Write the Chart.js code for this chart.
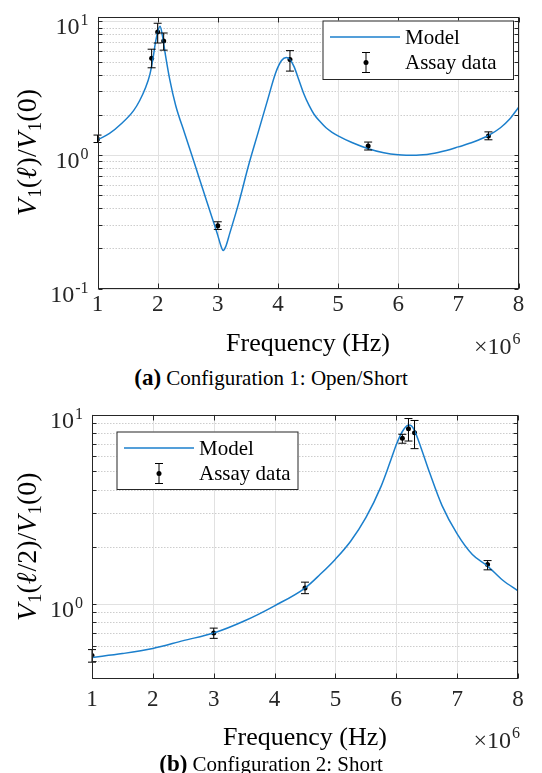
<!DOCTYPE html>
<html lang="en">
<head>
<meta charset="UTF-8">
<title>V1 ratio vs frequency</title>
<script src="https://cdn.jsdelivr.net/npm/chart.js"></script>
<style>
  body {
      margin: 0;
      background: #fff;
      width: 542px;
      height: 773px;
      position: relative;
      overflow: hidden;
      font-family: 'Liberation Serif', serif;
  }
  canvas {
      position: absolute;
      left: 0;
  }
  #plotA { top: 0; }
  #plotB { top: 395px; }
  .caption {
      position: absolute;
      left: 0;
      width: 542px;
      text-align: center;
      color: #000;
      font-size: 21px;
      line-height: 24px;
      white-space: nowrap;
  }
  .caption b { font-size: 23px; }
</style>
</head>
<body>
<canvas id="plotA" width="542" height="362"></canvas>
<canvas id="plotB" width="542" height="375"></canvas>
<div class="caption" style="top:366px"><b>(a)</b> Configuration 1: Open/Short</div>
<div class="caption" style="top:752px"><b>(b)</b> Configuration 2: Short</div>

<script>
// ---- (a) Configuration 1: Open/Short ----
const modelFreqA = [1.0, 1.2, 1.4, 1.6, 1.7, 1.8, 1.87, 1.92, 1.96, 2.0, 2.04, 2.08, 2.13, 2.2, 2.3, 2.45,
                    2.6, 2.75, 2.9, 3.0, 3.05, 3.09, 3.13, 3.2, 3.35, 3.51, 3.67, 3.83, 3.96, 4.06, 4.14,
                    4.2, 4.27, 4.35, 4.43, 4.52, 4.6, 4.7, 4.8, 4.9, 5.0, 5.23, 5.49, 5.76, 6.0, 6.3,
                    6.55, 6.8, 7.0, 7.25, 7.5, 7.7, 7.85, 8.0];
const modelA = [1.30, 1.45, 1.72, 2.15, 2.55, 3.2, 4.0, 5.2, 6.8, 8.3, 9.2, 7.8, 5.6, 3.7, 2.35, 1.45,
                0.90, 0.556, 0.345, 0.25, 0.21, 0.193, 0.205, 0.26, 0.44, 0.83, 1.47, 2.6, 4.1, 5.1, 5.38,
                5.2, 4.57, 3.63, 2.88, 2.34, 2.02, 1.78, 1.60, 1.48, 1.39, 1.24, 1.12, 1.04, 1.005, 0.995,
                1.02, 1.08, 1.15, 1.25, 1.40, 1.6, 1.85, 2.27];
const assayFreqA = [1.0, 1.9, 2.0, 2.1, 3.0, 4.2, 5.5, 7.5];
const assayA     = [1.32, 5.3, 8.35, 7.15, 0.295, 5.2, 1.17, 1.39];
const assayLoA   = [1.24, 4.5, 6.9, 6.1, 0.277, 4.25, 1.09, 1.30];
const assayHiA   = [1.41, 6.2, 9.7, 8.2, 0.316, 6.05, 1.25, 1.49];

// ---- (b) Configuration 2: Short ----
const modelFreqB = [1.0, 1.5, 2.0, 2.5, 3.0, 3.5, 4.0, 4.5, 4.75, 5.0, 5.25, 5.5, 5.75, 5.9, 6.0,
                    6.1, 6.2, 6.25, 6.3, 6.4, 6.55, 6.75, 7.0, 7.25, 7.5, 7.75, 8.0];
const modelB = [0.52, 0.545, 0.58, 0.638, 0.70, 0.81, 0.975, 1.21, 1.43, 1.72, 2.14, 2.85, 4.17, 5.62, 6.92,
                8.13, 8.79, 8.71, 8.22, 6.76, 4.9, 3.31, 2.34, 1.82, 1.58, 1.33, 1.17];
const assayFreqB = [1.0, 3.0, 4.5, 6.1, 6.2, 6.3, 7.5];
const assayB     = [0.532, 0.70, 1.21, 7.5, 8.4, 8.0, 1.61];
const assayLoB   = [0.491, 0.656, 1.13, 7.05, 7.24, 6.6, 1.51];
const assayHiB   = [0.572, 0.743, 1.30, 7.86, 9.52, 9.3, 1.69];

const xTickValues = [1, 2, 3, 4, 5, 6, 7, 8];

const SERIF = "'Liberation Serif', serif";
const AXIS = '#262626';
const BLUE = '#1b7fcc';

function seg(t, style) { return { t: t, style: style || '' }; }
const yTitleA = [seg('V', 'i'), seg('1', 'sub'), seg('('), seg('\u2113', 'i'), seg(')/'),
                 seg('V', 'i'), seg('1', 'sub'), seg('(0)')];
const yTitleB = [seg('V', 'i'), seg('1', 'sub'), seg('('), seg('\u2113', 'i'), seg('/2)/'),
                 seg('V', 'i'), seg('1', 'sub'), seg('(0)')];

// MATLAB-ish look: grid, boxed axes, inward ticks, 10^n labels, error bars, legend
const matlabAxes = {
    id: 'matlabAxes',
    beforeDatasetsDraw(chart, args, o) {
        const { ctx, chartArea: a, scales: { x, y } } = chart;
        ctx.save();
        ctx.lineWidth = 1;
        // minor y grid (dotted)
        ctx.strokeStyle = '#cdcdcd';
        ctx.setLineDash([1.5, 1.5]);
        minorValues(y).forEach(v => {
            const py = Math.round(y.getPixelForValue(v)) + 0.5;
            ctx.beginPath(); ctx.moveTo(a.left, py); ctx.lineTo(a.right, py); ctx.stroke();
        });
        ctx.setLineDash([]);
        ctx.strokeStyle = '#e1e1e1';
        majorValues(y).forEach(v => {
            const py = Math.round(y.getPixelForValue(v)) + 0.5;
            ctx.beginPath(); ctx.moveTo(a.left, py); ctx.lineTo(a.right, py); ctx.stroke();
        });
        x.ticks.forEach(t => {
            const px = Math.round(x.getPixelForValue(t.value)) + 0.5;
            ctx.beginPath(); ctx.moveTo(px, a.top); ctx.lineTo(px, a.bottom); ctx.stroke();
        });
        ctx.restore();
    },
    afterDatasetsDraw(chart, args, o) {
        const { ctx, chartArea: a, scales: { x, y } } = chart;
        ctx.save();

        // error bars for the assay points
        ctx.strokeStyle = '#000';
        ctx.lineWidth = 1;
        o.errX.forEach((f, i) => {
            const px = x.getPixelForValue(f);
            const lo = y.getPixelForValue(o.errLo[i]);
            const hi = y.getPixelForValue(o.errHi[i]);
            ctx.beginPath();
            ctx.moveTo(px, lo); ctx.lineTo(px, hi);
            ctx.moveTo(px - 4, lo); ctx.lineTo(px + 4, lo);
            ctx.moveTo(px - 4, hi); ctx.lineTo(px + 4, hi);
            ctx.stroke();
        });

        // box and inward tick marks
        ctx.strokeStyle = AXIS;
        ctx.lineWidth = 1;
        const L = Math.round(a.left) + 0.5, R = Math.round(a.right) - 0.5;
        const T = Math.round(a.top) + 0.5, B = Math.round(a.bottom) - 0.5;
        ctx.strokeRect(L, T, R - L, B - T);
        ctx.beginPath();
        x.ticks.forEach(t => {
            const px = Math.round(x.getPixelForValue(t.value)) + 0.5;
            ctx.moveTo(px, B); ctx.lineTo(px, B - 5);
            ctx.moveTo(px, T); ctx.lineTo(px, T + 5);
        });
        majorValues(y).concat(minorValues(y)).forEach(v => {
            const py = Math.round(y.getPixelForValue(v)) + 0.5;
            ctx.moveTo(L, py); ctx.lineTo(L + 4, py);
            ctx.moveTo(R, py); ctx.lineTo(R - 4, py);
        });
        ctx.stroke();

        // y tick labels 10^n
        ctx.fillStyle = AXIS;
        ctx.textBaseline = 'alphabetic';
        majorValues(y).forEach(v => {
            const e = String(Math.round(Math.log10(v)));
            const py = y.getPixelForValue(v);
            ctx.font = '16px ' + SERIF;
            const sw = ctx.measureText(e).width;
            const right = a.left - 9;
            ctx.textAlign = 'right';
            ctx.fillText(e, right, py + 4);
            ctx.font = '24px ' + SERIF;
            ctx.fillText('10', right - sw - 1, py + 13);
        });

        // y title (rotated, mixed italic / subscript)
        ctx.save();
        ctx.translate(27, (a.top + a.bottom) / 2);
        ctx.rotate(-Math.PI / 2);
        ctx.fillStyle = '#000';
        ctx.textAlign = 'left';
        ctx.textBaseline = 'alphabetic';
        const fontOf = s => s.style === 'i' ? 'italic 28px ' + SERIF
                          : s.style === 'sub' ? '19px ' + SERIF : '28px ' + SERIF;
        let total = 0;
        o.yTitle.forEach(s => { ctx.font = fontOf(s); total += ctx.measureText(s.t).width + (s.style === 'i' ? 1 : 0); });
        let cx = -total / 2;
        o.yTitle.forEach(s => {
            ctx.font = fontOf(s);
            ctx.fillText(s.t, cx, s.style === 'sub' ? 14 : 9);
            cx += ctx.measureText(s.t).width + (s.style === 'i' ? 1 : 0);
        });
        ctx.restore();

        // x title and exponent
        ctx.fillStyle = '#000';
        ctx.textAlign = 'center';
        ctx.font = '26px ' + SERIF;
        ctx.fillText('Frequency (Hz)', (a.left + a.right) / 2, a.bottom + o.xTitleOffset);
        ctx.fillStyle = AXIS;
        ctx.textAlign = 'right';
        ctx.font = '16px ' + SERIF;
        const w6 = ctx.measureText('6').width;
        ctx.fillText('6', a.right + 2, a.bottom + o.xTitleOffset - 7);
        ctx.font = '24px ' + SERIF;
        ctx.fillText('\u00d710', a.right + 1 - w6, a.bottom + o.xTitleOffset + 3);

        // legend
        const g = o.legend;
        ctx.fillStyle = '#fff';
        ctx.fillRect(g.x1, g.y1, g.x2 - g.x1, g.y2 - g.y1);
        ctx.strokeStyle = AXIS;
        ctx.strokeRect(g.x1 + 0.5, g.y1 + 0.5, g.x2 - g.x1, g.y2 - g.y1);
        ctx.strokeStyle = BLUE;
        ctx.lineWidth = 1.5;
        ctx.beginPath(); ctx.moveTo(g.lineX1, g.row1); ctx.lineTo(g.lineX2, g.row1); ctx.stroke();
        ctx.strokeStyle = '#000';
        ctx.lineWidth = 1;
        const ex = g.errX;
        ctx.beginPath();
        ctx.moveTo(ex, g.row2 - 10); ctx.lineTo(ex, g.row2 + 10);
        ctx.moveTo(ex - 4, g.row2 - 10); ctx.lineTo(ex + 4, g.row2 - 10);
        ctx.moveTo(ex - 4, g.row2 + 10); ctx.lineTo(ex + 4, g.row2 + 10);
        ctx.stroke();
        ctx.fillStyle = '#000';
        ctx.beginPath(); ctx.arc(ex, g.row2, 2.5, 0, Math.PI * 2); ctx.fill();
        ctx.font = '21px ' + SERIF;
        ctx.textAlign = 'left';
        ctx.textBaseline = 'middle';
        ctx.fillText('Model', g.textX, g.row1 + 1);
        ctx.fillText('Assay data', g.textX, g.row2 + 1);

        ctx.restore();
    }
};

function decadeRange(y) {
    return [Math.floor(Math.log10(y.min) + 1e-9), Math.ceil(Math.log10(y.max) - 1e-9)];
}
function majorValues(y) {
    const [d0, d1] = decadeRange(y);
    const out = [];
    for (let d = d0; d <= d1; d++) {
        const v = Math.pow(10, d);
        if (v >= y.min * 0.999 && v <= y.max * 1.001) out.push(v);
    }
    return out;
}
function minorValues(y) {
    const [d0, d1] = decadeRange(y);
    const out = [];
    for (let d = d0; d <= d1; d++) {
        for (let k = 2; k <= 9; k++) {
            const v = k * Math.pow(10, d);
            if (v > y.min * 1.01 && v < y.max * 0.99) out.push(v);
        }
    }
    return out;
}

function makeChart(id, cfg) {
    const line = cfg.modelFreq.map((f, i) => ({ x: f, y: cfg.model[i] }));
    const pts = cfg.assayFreq.map((f, i) => ({ x: f, y: cfg.assay[i] }));
    return new Chart(document.getElementById(id), {
        type: 'scatter',
        data: {
            datasets: [{
                label: 'Model',
                data: line,
                showLine: true,
                borderColor: BLUE,
                borderWidth: 1.5,
                pointRadius: 0,
                cubicInterpolationMode: 'monotone'
            }, {
                label: 'Assay data',
                data: pts,
                showLine: false,
                pointRadius: 2.5,
                pointBackgroundColor: '#000',
                pointBorderColor: '#000',
                pointBorderWidth: 0
            }]
        },
        options: {
            responsive: false,
            animation: false,
            events: [],
            layout: { padding: { top: cfg.padTop, right: cfg.padRight, left: 0, bottom: 0 } },
            scales: {
                x: {
                    type: 'linear',
                    min: 1,
                    max: 8,
                    afterBuildTicks: s => { s.ticks = xTickValues.map(v => ({ value: v })); },
                    afterFit: s => { s.height = cfg.xHeight; },
                    ticks: { font: { family: SERIF, size: 23 }, color: AXIS, padding: cfg.tickPad, maxRotation: 0 },
                    grid: { display: false, drawTicks: false },
                    border: { display: false }
                },
                y: {
                    type: 'logarithmic',
                    min: cfg.yMin,
                    max: cfg.yMax,
                    bounds: 'data',
                    afterFit: s => { s.width = cfg.yWidth; },
                    ticks: { display: false },
                    grid: { display: false, drawTicks: false },
                    border: { display: false }
                }
            },
            plugins: {
                legend: { display: false },
                tooltip: { enabled: false },
                matlabAxes: {
                    errX: cfg.assayFreq,
                    errLo: cfg.errLo,
                    errHi: cfg.errHi,
                    yTitle: cfg.yTitle,
                    xTitleOffset: cfg.xTitleOffset,
                    legend: cfg.legend
                }
            }
        },
        plugins: [matlabAxes]
    });
}

makeChart('plotA', {
    modelFreq: modelFreqA, model: modelA,
    assayFreq: assayFreqA, assay: assayA, errLo: assayLoA, errHi: assayHiA,
    yMin: 0.1, yMax: 10.9, yTitle: yTitleA,
    padTop: 16.5, padRight: 23.5, yWidth: 97.5, xHeight: 73.5, xTitleOffset: 62, tickPad: 3,
    legend: { x1: 322.5, y1: 20.5, x2: 513, y2: 79, row1: 37, row2: 62.5,
              lineX1: 330, lineX2: 400, textX: 405, errX: 366 }
});

makeChart('plotB', {
    modelFreq: modelFreqB, model: modelB,
    assayFreq: assayFreqB, assay: assayB, errLo: assayLoB, errHi: assayHiB,
    yMin: 0.4, yMax: 10, yTitle: yTitleB,
    padTop: 19.5, padRight: 24, yWidth: 92, xHeight: 91, xTitleOffset: 66, tickPad: 7,
    legend: { x1: 116.5, y1: 36.5, x2: 297.5, y2: 94, row1: 53, row2: 78.5,
              lineX1: 124, lineX2: 194, textX: 199, errX: 159 }
});
</script>
</body>
</html>
